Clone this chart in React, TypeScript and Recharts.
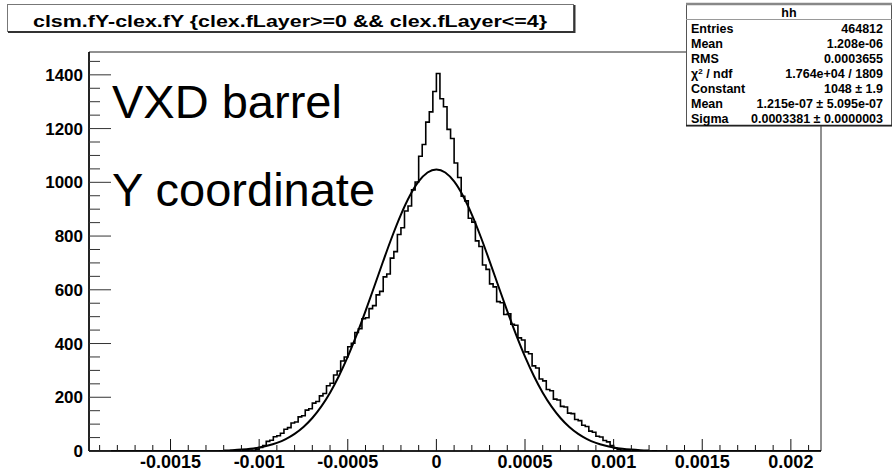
import React from "react";
import { LineChart, Line, XAxis, YAxis, ReferenceArea } from "recharts";

const FONT = "'Liberation Sans', Arial, Helvetica, sans-serif";

const X_MIN = -0.00196;
const X_MAX = 0.00217;
const Y_MAX = 1485;

// histogram: bin low edges start at binStart, width binWidth
const binStart = -0.00124;
const binWidth = 0.00002;
const histCounts = [
  0, 1, 0, 1, 2, 1, 1, 3, 2, 4, 3, 6, 13, 20, 36, 40, 53, 57, 66, 81,
  87, 104, 108, 127, 131, 152, 157, 178, 184, 205, 214, 243, 252, 283, 298, 335, 350, 388, 401, 441,
  455, 492, 496, 530, 541, 581, 594, 648, 659, 718, 742, 806, 831, 893, 912, 972, 1001, 1097, 1141, 1224,
  1262, 1338,
  1405,
  1311, 1281, 1197, 1163, 1072, 1018, 948, 931, 866, 852, 782, 761, 692, 676, 622, 611, 556, 552, 508, 511,
  472, 468, 421, 413, 369, 362, 317, 309, 268, 261, 229, 224, 193, 190, 166, 164, 141, 139, 117, 113,
  96, 91, 74, 70, 55, 52, 39, 34, 20, 10, 6, 3, 3, 2, 1, 2, 1, 0, 1, 0, 1, 0,
];

// gaussian fit curve read at fixed x positions
const fitStart = -0.0012;
const fitStep = 0.00005;
const fitValues = [
  1.9, 3.2, 5.3, 8.4, 13.2, 20.2, 30.3, 44.4, 63.8, 89.5, 122.9, 165.1, 217.0, 279.1, 351.1, 432.2,
  520.5, 613.3, 707.0, 797.4, 879.8, 949.8, 1003.1, 1036.6,
  1048,
  1036.6, 1003.1, 949.8, 879.8, 797.4, 707.0, 613.3, 520.5, 432.2, 351.1, 279.1, 217.0, 165.1, 122.9,
  89.5, 63.8, 44.4, 30.3, 20.2, 13.2, 8.4, 5.3, 3.2, 1.9,
];

const xMajorTicks = [-0.0015, -0.001, -0.0005, 0, 0.0005, 0.001, 0.0015, 0.002];
const xTickLabels = ["-0.0015", "-0.001", "-0.0005", "0", "0.0005", "0.001", "0.0015", "0.002"];
const xMinorTicks = [
  -0.0019, -0.0018, -0.0017, -0.0016, -0.0014, -0.0013, -0.0012, -0.0011, -0.0009, -0.0008, -0.0007,
  -0.0006, -0.0004, -0.0003, -0.0002, -0.0001, 0.0001, 0.0002, 0.0003, 0.0004, 0.0006, 0.0007, 0.0008,
  0.0009, 0.0011, 0.0012, 0.0013, 0.0014, 0.0016, 0.0017, 0.0018, 0.0019, 0.0021,
];
const yMajorTicks = [0, 200, 400, 600, 800, 1000, 1200, 1400];
const yTickLabels = ["0", "200", "400", "600", "800", "1000", "1200", "1400"];
const yMinorTicks = [
  50, 100, 150, 250, 300, 350, 450, 500, 550, 650, 700, 750, 850, 900, 950, 1050, 1100, 1150, 1250,
  1300, 1350, 1450,
];

const titleText = "clsm.fY-clex.fY {clex.fLayer>=0 && clex.fLayer<=4}";
const statName = "hh";
const statLabels = ["Entries", "Mean", "RMS", "χ2 / ndf", "Constant", "Mean", "Sigma"];
const statValues = [
  "464812",
  "1.208e-06",
  "0.0003655",
  "1.764e+04 / 1809",
  "1048 ± 1.9",
  "1.215e-07 ± 5.095e-07",
  "0.0003381 ± 0.0000003",
];
const annotations = ["VXD barrel", "Y coordinate"];

const histData = [
  { x: X_MIN, h: 0 },
  ...histCounts.map((c, i) => ({ x: binStart + i * binWidth, h: c })),
  { x: binStart + histCounts.length * binWidth, h: 0 },
  { x: X_MAX, h: 0 },
];
const fitData = fitValues.map((v, i) => ({ x: fitStart + i * fitStep, f: v }));

const xAllTicks = [...xMajorTicks, ...xMinorTicks].sort((a, b) => a - b);
const yAllTicks = [...yMajorTicks, ...yMinorTicks].sort((a, b) => a - b);

const XTick = (props: any) => {
  const { x, y, payload } = props;
  const v = payload.value;
  const idx = xMajorTicks.findIndex((t) => Math.abs(t - v) < 1e-9);
  const major = idx >= 0;
  return (
    <g>
      <line x1={x} x2={x} y1={y} y2={y - (major ? 12 : 6)} stroke="#111" strokeWidth={1} />
      {major && (
        <text x={x} y={y + 17} textAnchor="middle" fontFamily={FONT} fontWeight="bold" fontSize={18} fill="#000">
          {xTickLabels[idx]}
        </text>
      )}
    </g>
  );
};

const YTick = (props: any) => {
  const { x, y, payload } = props;
  const v = payload.value;
  const idx = yMajorTicks.findIndex((t) => Math.abs(t - v) < 1e-6);
  const major = idx >= 0;
  return (
    <g>
      <line x1={x} x2={x + (major ? 22 : 11)} y1={y} y2={y} stroke="#333" strokeWidth={1} />
      {major && (
        <text x={x - 6} y={y + 6} textAnchor="end" fontFamily={FONT} fontWeight="bold" fontSize={17} fill="#000">
          {yTickLabels[idx]}
        </text>
      )}
    </g>
  );
};

export default function App() {
  return (
    <div style={{ position: "absolute", left: 0, top: 0, width: 893, height: 476, background: "#fff" }}>
      <LineChart width={893} height={476} margin={{ top: 52, right: 72, bottom: 0, left: 0 }}>
        <ReferenceArea
          x1={X_MIN}
          x2={X_MAX}
          y1={0}
          y2={Y_MAX}
          fill="none"
          fillOpacity={0}
          stroke="#222"
          strokeWidth={1}
          ifOverflow="visible"
        />
        <XAxis
          type="number"
          dataKey="x"
          domain={[X_MIN, X_MAX]}
          ticks={xAllTicks}
          interval={0}
          height={25}
          tickSize={0}
          tickMargin={0}
          tick={XTick}
          tickLine={false}
          axisLine={{ stroke: "#000", strokeWidth: 1.5 }}
          allowDataOverflow
        />
        <YAxis
          type="number"
          domain={[0, Y_MAX]}
          ticks={yAllTicks}
          interval={0}
          width={89}
          tickSize={0}
          tickMargin={0}
          tick={YTick}
          tickLine={false}
          axisLine={{ stroke: "#000", strokeWidth: 1.5 }}
          allowDataOverflow
        />
        <Line
          data={histData}
          dataKey="h"
          type="stepAfter"
          dot={false}
          stroke="#000"
          strokeWidth={1.6}
          isAnimationActive={false}
        />
        <Line
          data={fitData}
          dataKey="f"
          type="monotone"
          dot={false}
          stroke="#000"
          strokeWidth={2}
          isAnimationActive={false}
        />
      </LineChart>
      <svg
        width={893}
        height={476}
        style={{ position: "absolute", left: 0, top: 0, pointerEvents: "none" }}
      >
        {/* title box */}
        <rect x={7.5} y={4.5} width={566} height={27} fill="#fff" stroke="#777" strokeWidth={1} />
        <line x1={8} y1={32} x2={575} y2={32} stroke="#333" strokeWidth={2} />
        <line x1={574.5} y1={5} x2={574.5} y2={33} stroke="#333" strokeWidth={2} />
        <text
          x={33}
          y={26.5}
          fontFamily={FONT}
          fontWeight="bold"
          fontSize={17}
          textLength={514}
          lengthAdjust="spacingAndGlyphs"
          fill="#000"
        >
          {titleText}
        </text>

        {/* stats box */}
        <rect x={686.5} y={4} width={205} height={122} fill="#fff" stroke="#555" strokeWidth={1} />
        <line x1={686} y1={4} x2={892} y2={4} stroke="#888" strokeWidth={2.5} />
        <line x1={686} y1={19.5} x2={892} y2={19.5} stroke="#999" strokeWidth={1} />
        <line x1={686} y1={125.5} x2={892} y2={125.5} stroke="#222" strokeWidth={1.5} />
        <text x={789} y={17} textAnchor="middle" fontFamily={FONT} fontWeight="bold" fontSize={12.5} fill="#000">
          {statName}
        </text>
        {statLabels.map((lab, i) => (
          <text key={"l" + i} x={691} y={32.5 + i * 15.1} fontFamily={FONT} fontWeight="bold" fontSize={12.5} fill="#000">
            {lab === "χ2 / ndf" ? (
              <>
                χ<tspan dy={-4} fontSize={8}>2</tspan>
                <tspan dy={4}> / ndf</tspan>
              </>
            ) : (
              lab
            )}
          </text>
        ))}
        {statValues.map((val, i) => (
          <text
            key={"v" + i}
            x={883}
            y={32.5 + i * 15.1}
            textAnchor="end"
            fontFamily={FONT}
            fontWeight="bold"
            fontSize={12.5}
            fill="#000"
          >
            {val}
          </text>
        ))}

        {/* annotations */}
        <text x={112} y={118} fontFamily={FONT} fontSize={47} fill="#000">
          {annotations[0]}
        </text>
        <text x={112} y={206} fontFamily={FONT} fontSize={47} fill="#000">
          {annotations[1]}
        </text>
      </svg>
    </div>
  );
}
